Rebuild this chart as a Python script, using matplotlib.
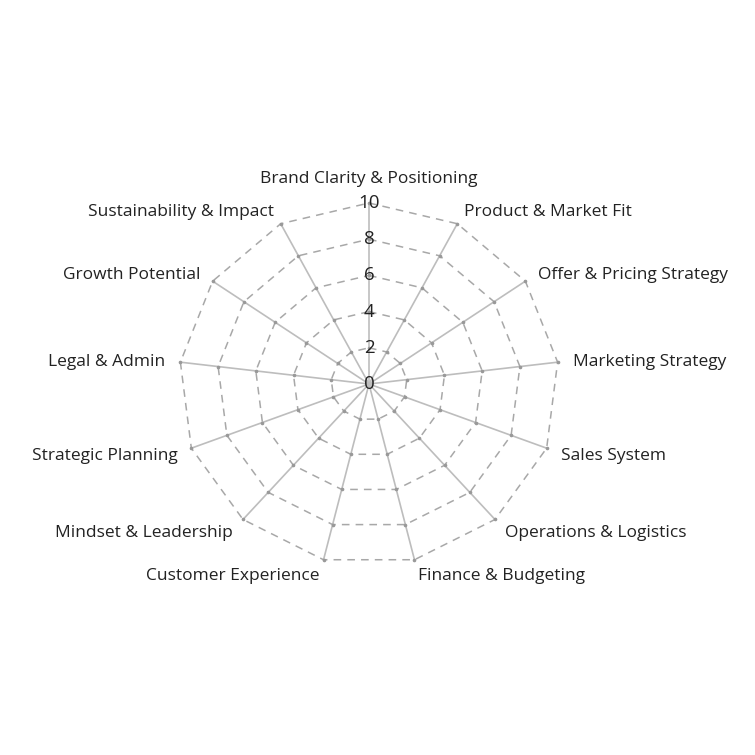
import numpy as np
import matplotlib
matplotlib.use("Agg")
import matplotlib.pyplot as plt

# categories, clockwise from the top
categories = ["Brand Clarity & Positioning", "Product & Market Fit",
              "Offer & Pricing Strategy", "Marketing Strategy", "Sales System",
              "Operations & Logistics", "Finance & Budgeting",
              "Customer Experience", "Mindset & Leadership",
              "Strategic Planning", "Legal & Admin", "Growth Potential",
              "Sustainability & Impact"]
ticks = [0, 2, 4, 6, 8, 10]
rmax = 10

plt.rcParams['font.family'] = ['Open Sans', 'DejaVu Sans']

n = len(categories)
ang = np.pi / 2 - np.arange(n) * 2 * np.pi / n
cs, sn = np.cos(ang), np.sin(ang)

fig = plt.figure(figsize=(7.55, 7.55), dpi=100)
ax = fig.add_axes([0, 0, 1, 1])
# pixel scale: 19 px/unit horizontally, 18.1 px/unit vertically
ax.set_xlim(-369 / 19, (755 - 369) / 19)
ax.set_ylim(-371 / 18.1, (755 - 371) / 18.1)
ax.axis('off')

# spokes
for c, s in zip(cs, sn):
    ax.plot([0, rmax * c], [0, rmax * s], color='#bdbdbd', lw=1.2, zorder=1)

# dashed polygon rings
for r in ticks[1:]:
    xs = np.append(r * cs, r * cs[0])
    ys = np.append(r * sn, r * sn[0])
    ax.plot(xs, ys, color='#a8a8a8', lw=1.1, ls=(0, (5, 4)), zorder=1)
    ax.plot(r * cs, r * sn, ls='none', marker='o', ms=1.6, color='#999999', zorder=2)

# radial tick labels on the top spoke
for r in ticks:
    ax.text(0, r, str(r), ha='center', va='center', fontsize=13.5,
            color='#222222', zorder=3)

# category labels
for lab, c, s in zip(categories, cs, sn):
    if abs(c) < 0.01:
        off, ha = (0, 24), 'center'
    else:
        off = (15 * c, 15 * s - 2)
        ha = 'left' if c > 0 else 'right'
    ax.annotate(lab, xy=(rmax * c, rmax * s), xytext=off,
                textcoords='offset pixels', ha=ha, va='center',
                fontsize=12.5, color='#222222')

fig.savefig('out.png', dpi=100, facecolor='white')
